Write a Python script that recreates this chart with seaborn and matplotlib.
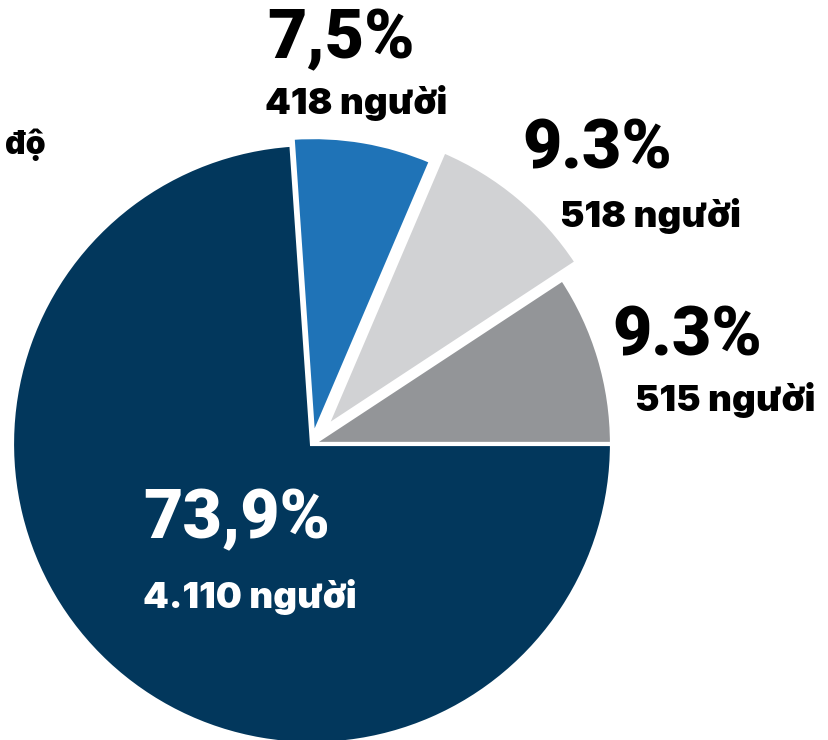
import matplotlib
matplotlib.use("Agg")
import matplotlib.pyplot as plt
import seaborn as sns

# slices, counter-clockwise from 3 o'clock
groups = ["nhom4", "nhom3", "nhom2", "nhom1"]
people = [515, 518, 418, 4110]
pct_labels = ["9.3%", "9.3%", "7,5%", "73,9%"]
people_labels = ["515 người", "518 người", "418 người", "4.110 người"]
colors = ["#939598", "#d1d2d4", "#1f73b7", "#02375c"]

sns.set_theme(style="white")
plt.rcParams["font.family"] = ["Inter", "DejaVu Sans"]

fig = plt.figure(figsize=(8.29, 7.40), dpi=100)
ax = fig.add_axes([0, 0, 1, 1])

H = 740
ax.pie(people, colors=colors, startangle=0, counterclock=True,
       center=(312, H - 444), radius=300, explode=[0, 22, 7, 0],
       wedgeprops=dict(edgecolor="white", linewidth=3), frame=False)
ax.set_xlim(0, 829)
ax.set_ylim(0, H)
ax.axis("off")

# label positions: x of number, y of number, x of count, y of count
pos = [(612, 337, 635, 400), (522, 150, 560, 216),
       (267, 40, 265, 103), (143, 520, 143, 597)]
txt_colors = ["black", "black", "black", "white"]
for (x1, y1, x2, y2), p, n, c in zip(pos, pct_labels, people_labels, txt_colors):
    ax.text(x1, H - y1, p, ha="left", va="center", fontsize=49,
            fontweight="black", color=c, family=["Roboto", "DejaVu Sans"])
    ax.text(x2, H - y2, n, ha="left", va="center", fontsize=26.5,
            fontweight="black", color=c)

ax.text(5, H - 145, "độ", ha="left", va="center", fontsize=23,
        fontweight="black", color="black")

fig.savefig("out.png", dpi=100)
